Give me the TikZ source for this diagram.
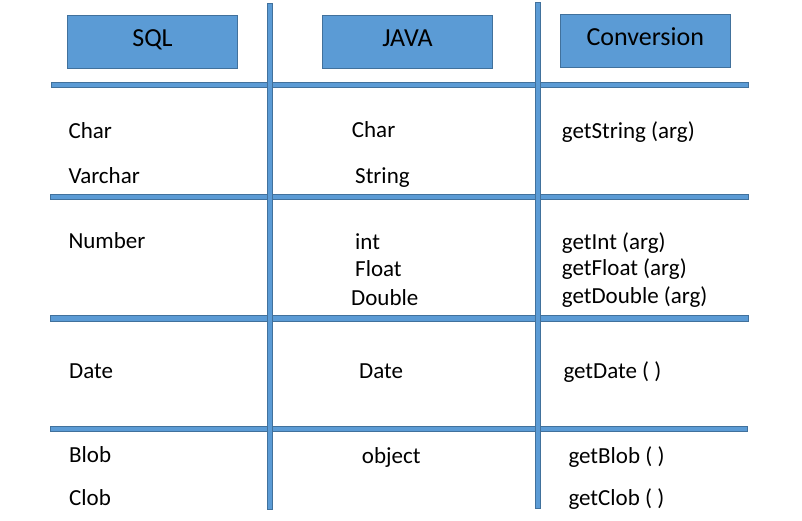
\documentclass[tikz,border=0pt]{standalone}
\usepackage{fontspec}
\setmainfont{Carlito}
\definecolor{bfill}{RGB}{91,155,213}
\definecolor{bline}{RGB}{65,113,156}
\begin{document}
\begin{tikzpicture}[x=1pt,y=-1pt,
  bar/.style={fill=bfill,draw=bline,line width=1pt},
  hdr/.style={draw=bline,fill=bfill,line width=1pt,minimum width=170pt,minimum height=53pt,inner sep=0pt,
    text height=16pt,text depth=6pt,font=\fontsize{26}{30}\selectfont},
  cell/.style={anchor=base west,inner sep=0pt,font=\fontsize{23}{27}\selectfont}]
\useasboundingbox (0,0) rectangle (802,520);
% header boxes
\node[hdr] (hsql) at (152.5,41.7) {SQL};
\node[hdr] (hjava) at (407.5,41.7) {JAVA};
\node[hdr] (hconv) at (645.3,40.7) {Conversion};
% horizontal bars
\path[bar] (51,82) rectangle (748.5,87.5);
\path[bar] (50,194) rectangle (748,199.5);
\path[bar] (50,315.5) rectangle (748,321);
\path[bar] (50,426) rectangle (747.7,431.7);
% vertical bars
\path[bar] (267.3,3.3) rectangle (272.5,509.3);
\path[bar] (535.3,2.3) rectangle (540.7,508);
% SQL column
\node[cell] (s1) at (68.3,138) {Char};
\node[cell] (s2) at (68.3,183.3) {Varchar};
\node[cell] (s3) at (68.3,248) {Number};
\node[cell] (s4) at (69,378.3) {Date};
\node[cell] (s5) at (69,462.7) {Blob};
\node[cell] (s6) at (69,505) {Clob};
% JAVA column
\node[cell] (j1) at (351.7,137.5) {Char};
\node[cell] (j2) at (355,183) {String};
\node[cell] (j3) at (355,249) {int};
\node[cell] (j4) at (355,276.7) {Float};
\node[cell] (j5) at (351,305) {Double};
\node[cell] (j6) at (359,378.3) {Date};
\node[cell] (j7) at (361.7,463.3) {object};
% Conversion column
\node[cell] (c1) at (561.7,138.3) {getString (arg)};
\node[cell] (c2) at (561.7,249) {getInt (arg)};
\node[cell] (c3) at (561.7,275.7) {getFloat (arg)};
\node[cell] (c4) at (561.7,303.3) {getDouble (arg)};
\node[cell] (c5) at (563.3,378.3) {getDate ( )};
\node[cell] (c6) at (568.3,463.3) {getBlob ( )};
\node[cell] (c7) at (568.3,505) {getClob ( )};
\end{tikzpicture}
\end{document}
